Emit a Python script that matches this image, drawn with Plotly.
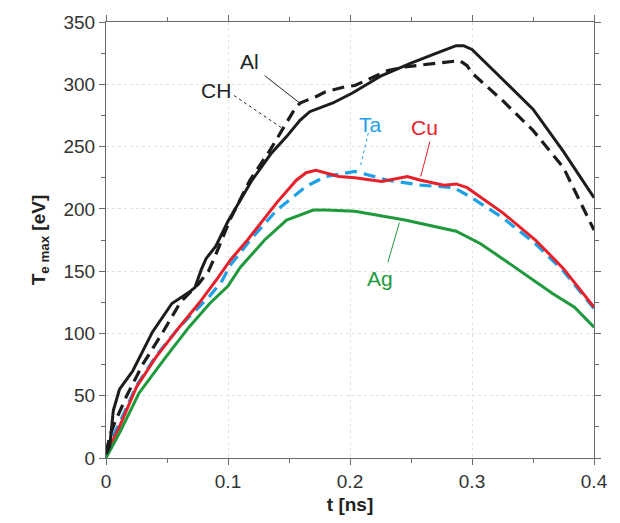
import plotly.graph_objects as go

# ---- data ----
t_al = [0, 0.003, 0.006, 0.011, 0.022, 0.038, 0.054, 0.068, 0.073, 0.078, 0.082, 0.09, 0.1, 0.119, 0.135, 0.148, 0.159, 0.167, 0.186, 0.202, 0.226, 0.25, 0.271, 0.287, 0.293, 0.3, 0.325, 0.35, 0.375, 0.4]
v_al = [3, 9, 38, 55, 70, 101, 124, 133, 137, 151, 160, 170, 190, 222, 244, 258, 271, 278, 285, 293, 307, 317, 325, 331, 331, 328, 304, 280, 246, 209]

t_ch = [0, 0.004, 0.007, 0.017, 0.03, 0.046, 0.061, 0.076, 0.084, 0.089, 0.102, 0.118, 0.135, 0.144, 0.154, 0.159, 0.172, 0.18, 0.196, 0.204, 0.231, 0.245, 0.271, 0.29, 0.296, 0.3, 0.325, 0.35, 0.375, 0.4]
v_ch = [5, 20, 28, 50, 75, 100, 125, 140, 150, 161, 192, 223, 248, 263, 279, 285, 290, 294, 298, 299, 311, 314, 317, 319, 315, 309, 287, 263, 233, 183]

t_ta = [0, 0.005, 0.011, 0.025, 0.041, 0.06, 0.075, 0.085, 0.095, 0.102, 0.12, 0.14, 0.164, 0.18, 0.204, 0.231, 0.258, 0.285, 0.298, 0.325, 0.352, 0.375, 0.4]
v_ta = [3, 16, 28, 58, 82, 105, 120, 130, 142, 155, 177, 199, 218, 226, 230, 223, 219, 217, 210, 193, 172, 150, 120]

t_cu = [0, 0.011, 0.025, 0.041, 0.06, 0.076, 0.092, 0.102, 0.116, 0.14, 0.156, 0.164, 0.172, 0.191, 0.204, 0.226, 0.247, 0.258, 0.277, 0.287, 0.296, 0.325, 0.352, 0.375, 0.4]
v_cu = [3, 25, 57, 81, 105, 124, 145, 159, 175, 205, 223, 229, 231, 226, 225, 222, 226, 223, 219, 220, 217, 197, 175, 152, 121]

t_ag = [0, 0.011, 0.027, 0.049, 0.068, 0.085, 0.1, 0.11, 0.13, 0.148, 0.17, 0.18, 0.204, 0.245, 0.287, 0.307, 0.325, 0.347, 0.366, 0.384, 0.4]
v_ag = [0, 20, 52, 81, 105, 124, 138, 153, 175, 191, 199, 199, 198, 191, 182, 172, 160, 145, 132, 121, 105]

x_ticks = [0, 0.1, 0.2, 0.3, 0.4]
x_tick_labels = ["0", "0.1", "0.2", "0.3", "0.4"]
y_ticks = [0, 50, 100, 150, 200, 250, 300, 350]

BLACK = "#1c1c1c"
RED = "#e8202a"
BLUE = "#1ea0e6"
GREEN = "#1e9a3c"
FONT = "Liberation Sans, Arial"

fig = go.Figure()
fig.add_trace(go.Scatter(x=t_ta, y=v_ta, mode="lines", line=dict(color=BLUE, width=3.2, dash="12px,7px")))
fig.add_trace(go.Scatter(x=t_cu, y=v_cu, mode="lines", line=dict(color=RED, width=3)))
fig.add_trace(go.Scatter(x=t_ag, y=v_ag, mode="lines", line=dict(color=GREEN, width=3)))
fig.add_trace(go.Scatter(x=t_ch, y=v_ch, mode="lines", line=dict(color=BLACK, width=3.2, dash="12px,7px")))
fig.add_trace(go.Scatter(x=t_al, y=v_al, mode="lines", line=dict(color=BLACK, width=3)))

# labels with leader lines
labels = [
    ("Al", 0.118, 318, 0.130, 307, 0.160, 284, "#222", "solid"),
    ("CH", 0.090, 295, 0.105, 291, 0.144, 265, "#222", "dot"),
    ("Ta", 0.2165, 268, 0.215, 261, 0.2085, 234, BLUE, "dot"),
    ("Cu", 0.261, 265, 0.2655, 254, 0.258, 226, RED, "solid"),
    ("Ag", 0.2245, 144, 0.231, 157, 0.2405, 189, GREEN, "solid"),
]
for txt, tx, ty, x0, y0, x1, y1, col, dash in labels:
    fig.add_annotation(x=tx, y=ty, text=txt, showarrow=False,
                       font=dict(family=FONT, size=21, color=col))
    fig.add_shape(type="line", x0=x0, y0=y0, x1=x1, y1=y1,
                  line=dict(color=col, width=1, dash=dash))

axis_common = dict(
    showline=True, linecolor="#6a6a6a", linewidth=1, mirror="ticks",
    ticks="outside", ticklen=6, tickcolor="#6a6a6a", tickwidth=1,
    showgrid=True, gridcolor="#e2e2e2", griddash="dot", gridwidth=1,
    zeroline=False,
    tickfont=dict(family=FONT, size=19, color="#333"),
)

fig.update_xaxes(range=[0, 0.4], tickvals=x_ticks, ticktext=x_tick_labels,
                 minor=dict(ticks="outside", ticklen=4, tickcolor="#6a6a6a", dtick=0.05, tick0=0, showgrid=False),
                 title=dict(text="<b>t [ns]</b>", standoff=6,
                            font=dict(family=FONT, size=19, color="#222")),
                 **axis_common)
fig.update_yaxes(range=[0, 350], tickvals=y_ticks,
                 minor=dict(ticks="outside", ticklen=4, tickcolor="#6a6a6a", dtick=25, tick0=0, showgrid=False),
                 title=dict(text="<b>T<sub>e max</sub> [eV]</b>", standoff=12,
                            font=dict(family=FONT, size=19, color="#222")),
                 **axis_common)

fig.update_layout(
    width=620, height=523,
    margin=dict(l=106, r=17, t=22, b=65),
    paper_bgcolor="white", plot_bgcolor="white",
    showlegend=False,
)

fig.write_html("out.html")
